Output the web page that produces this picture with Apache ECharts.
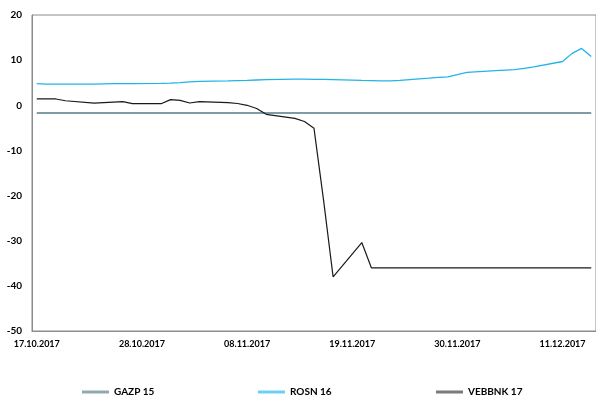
<!DOCTYPE html>
<html>
<head>
<meta charset="utf-8">
<script src="https://cdn.jsdelivr.net/npm/echarts@6/dist/echarts.min.js"></script>
<style>html,body{margin:0;padding:0;background:#fff}#c{width:596px;height:401px}</style>
</head>
<body>
<div id="c"></div>
<script>
// Calendar days 17.10.2017 .. 14.12.2017 (category axis); weekend days carry no data
const categories = [
  "17.10.2017","18.10.2017","19.10.2017","20.10.2017","21.10.2017","22.10.2017","23.10.2017","24.10.2017","25.10.2017","26.10.2017",
  "27.10.2017","28.10.2017","29.10.2017","30.10.2017","31.10.2017","01.11.2017","02.11.2017","03.11.2017","04.11.2017","05.11.2017",
  "06.11.2017","07.11.2017","08.11.2017","09.11.2017","10.11.2017","11.11.2017","12.11.2017","13.11.2017","14.11.2017","15.11.2017",
  "16.11.2017","17.11.2017","18.11.2017","19.11.2017","20.11.2017","21.11.2017","22.11.2017","23.11.2017","24.11.2017","25.11.2017",
  "26.11.2017","27.11.2017","28.11.2017","29.11.2017","30.11.2017","01.12.2017","02.12.2017","03.12.2017","04.12.2017","05.12.2017",
  "06.12.2017","07.12.2017","08.12.2017","09.12.2017","10.12.2017","11.12.2017","12.12.2017","13.12.2017","14.12.2017"
];
const N = null;
const gazp15 = [
  -1.7,-1.7,-1.7,-1.7,N,N,-1.7,-1.7,-1.7,-1.7,
  -1.7,N,N,-1.7,-1.7,-1.7,-1.7,-1.7,N,N,
  -1.7,-1.7,-1.7,-1.7,-1.7,N,N,-1.7,-1.7,-1.7,
  -1.7,-1.7,N,N,-1.7,-1.7,-1.7,-1.7,-1.7,N,
  N,-1.7,-1.7,-1.7,-1.7,-1.7,N,N,-1.7,-1.7,
  -1.7,-1.7,-1.7,N,N,-1.7,-1.7,-1.7,-1.7
];
const rosn16 = [
  4.8,4.7,4.7,4.7,N,N,4.7,4.75,4.8,4.8,
  4.8,N,N,4.85,4.9,5.0,5.2,5.3,N,N,
  5.4,5.45,5.5,5.6,5.7,N,N,5.8,5.8,5.75,
  5.75,5.7,N,N,5.5,5.45,5.4,5.4,5.5,N,
  N,6.0,6.2,6.3,6.8,7.3,N,N,7.7,7.8,
  7.9,8.2,8.5,N,N,9.7,11.5,12.6,10.8
];
const vebbnk17 = [
  1.4,1.4,1.4,1.0,N,N,0.5,0.6,0.7,0.8,
  0.35,N,N,0.35,1.25,1.1,0.5,0.8,N,N,
  0.6,0.4,0.0,-0.7,-2.0,N,N,-2.9,-3.6,-5.1,
  -21,-38,N,N,-30.4,-36,-36,-36,-36,N,
  N,-36,-36,-36,-36,-36,N,N,-36,-36,
  -36,-36,-36,N,N,-36,-36,-36,-36
];
const yTicks = { min: -50, max: 20, interval: 10 };

const FONT = 'Lato';
const chart = echarts.init(document.getElementById('c'), null, { renderer: 'canvas' });
const legendBase = {
  top: 387, itemWidth: 27, itemHeight: 3, icon: 'rect', itemGap: 4, padding: 0,
  textStyle: { fontFamily: FONT, fontWeight: 'bold', fontSize: 10, color: '#000' },
  selectedMode: false
};
chart.setOption({
  animation: false,
  backgroundColor: '#fff',
  grid: { left: 32, right: 0, top: 15, bottom: 70, show: true, borderColor: '#8c8c8c', borderWidth: 1 },
  legend: [
    Object.assign({}, legendBase, { left: 82, data: [{ name: 'GAZP 15', itemStyle: { color: '#8fa9b1' } }] }),
    Object.assign({}, legendBase, { left: 258, data: [{ name: 'ROSN 16', itemStyle: { color: '#6fcff2' } }] }),
    Object.assign({}, legendBase, { left: 436, data: [{ name: 'VEBBNK 17', itemStyle: { color: '#7a7a7a' } }] })
  ],
  xAxis: {
    type: 'category',
    data: categories,
    boundaryGap: true,
    axisLine: { onZero: false, lineStyle: { color: '#8c8c8c', width: 1 } },
    axisTick: { show: false },
    axisLabel: { interval: 10, margin: 9, fontFamily: FONT, fontWeight: 'bold', fontSize: 9, color: '#000' },
    splitLine: { show: false }
  },
  yAxis: {
    type: 'value',
    min: yTicks.min, max: yTicks.max, interval: yTicks.interval,
    axisLine: { show: true, lineStyle: { color: '#8c8c8c', width: 1 } },
    axisTick: { show: false },
    axisLabel: { margin: 10, fontFamily: FONT, fontWeight: 'bold', fontSize: 10, color: '#000' },
    splitLine: { show: false }
  },
  series: [
    { name: 'GAZP 15', type: 'line', data: gazp15, connectNulls: true, symbol: 'none',
      lineStyle: { color: '#7f9ca6', width: 2 }, itemStyle: { color: '#7f9ca6' } },
    { name: 'ROSN 16', type: 'line', data: rosn16, connectNulls: true, symbol: 'none',
      lineStyle: { color: '#22b4e8', width: 1.3 }, itemStyle: { color: '#22b4e8' } },
    { name: 'VEBBNK 17', type: 'line', data: vebbnk17, connectNulls: true, symbol: 'none',
      lineStyle: { color: '#1a1a1a', width: 1.2 }, itemStyle: { color: '#1a1a1a' } }
  ]
});
</script>
</body>
</html>
